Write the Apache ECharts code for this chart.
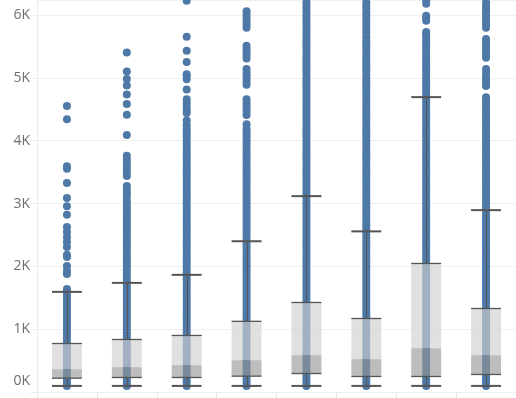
<!DOCTYPE html>
<html><head><meta charset="utf-8">
<script src="https://cdn.jsdelivr.net/npm/echarts@6/dist/echarts.min.js"></script>
<style>html,body{margin:0;padding:0;background:#fff}#c{width:516px;height:398px}</style>
</head><body><div id="c"></div>
<script>
// Categories (x columns; names not visible in the reference)
const categories = ['1', '2', '3', '4', '5', '6', '7', '8'];
// Y tick labels
const yTickValues = [0, 1000, 2000, 3000, 4000, 5000, 6000];
const yTickLabels = ['0K', '1K', '2K', '3K', '4K', '5K', '6K'];
// Box plot statistics per column
const lowerWhisker = [97, 97, 97, 97, 97, 97, 97, 97];
const q1 = [220, 231, 231, 252, 294, 247, 247, 279];
const median = [363, 395, 427, 506, 586, 522, 697, 586];
const q3 = [772, 836, 900, 1125, 1425, 1170, 2046, 1329];
const upperWhisker = [1594, 1737, 1865, 2400, 3118, 2557, 4694, 2895];

// Dot values per column (dense runs are overlapping dots)
const dots1 = [97,150,200,250,300,350,400,450,500,550,600,650,700,750,800,850,900,950,1000,1050,1100,1150,1200,1250,1300,1350,1400,1450,1500,1550,1600,1640,
  1880,1930,2005,2149,2186,2308,2387,2467,2546,2626,2822,2955,3088,3326,3554,3592,4340,4552];
const dots2 = [97,150,200,250,300,350,400,450,500,550,600,650,700,750,800,850,900,950,1000,1050,1100,1150,1200,1250,1300,1350,1400,1450,1500,1550,1600,1650,1700,1750,1800,1850,1900,1950,2000,2050,2100,2150,2200,2250,2300,2350,2400,2450,2500,2550,2600,2650,2700,2750,2800,2850,2900,2950,3000,3050,
  3120,3170,3220,3280,3440,3490,3540,3600,3650,3700,3760,4090,4415,4585,4734,4878,4984,5101,5404];
const dots3 = [97,150,200,250,300,350,400,450,500,550,600,650,700,750,800,850,900,950,1000,1050,1100,1150,1200,1250,1300,1350,1400,1450,1500,1550,1600,1650,1700,1750,1800,1850,1900,1950,2000,2050,2100,2150,2200,2250,2300,2350,2400,2450,2500,2550,2600,2650,2700,2750,2800,2850,2900,2950,3000,3050,3100,3150,3200,3250,3300,3350,3400,3450,3500,3550,3600,3650,3700,3750,3800,3850,3900,3950,4000,4050,4100,4150,4200,4250,4320,
  4440,4490,4540,4600,4660,4814,4980,5030,5060,5255,5431,5654,6230];
const dots4 = [97,150,200,250,300,350,400,450,500,550,600,650,700,750,800,850,900,950,1000,1050,1100,1150,1200,1250,1300,1350,1400,1450,1500,1550,1600,1650,1700,1750,1800,1850,1900,1950,2000,2050,2100,2150,2200,2250,2300,2350,2400,2450,2500,2550,2600,2650,2700,2750,2800,2850,2900,2950,3000,3050,3100,3150,3200,3250,3300,3350,3400,3450,3500,3550,3600,3650,3700,3750,3800,3850,3900,3950,4000,4050,4100,4150,4190,
  4261,4410,4460,4510,4560,4610,4660,4890,4940,4990,5040,5090,5140,5310,5360,5410,5460,5510,5800,5850,5900,5960,6010,6060,6270];
const dots5 = [97,150,200,250,300,350,400,450,500,550,600,650,700,750,800,850,900,950,1000,1050,1100,1150,1200,1250,1300,1350,1400,1450,1500,1550,1600,1650,1700,1750,1800,1850,1900,1950,2000,2050,2100,2150,2200,2250,2300,2350,2400,2450,2500,2550,2600,2650,2700,2750,2800,2850,2900,2950,3000,3050,3100,3150,3200,3250,3300,3350,3400,3450,3500,3550,3600,3650,3700,3750,3800,3850,3900,3950,4000,4050,4100,4150,4200,4250,4300,4350,4400,4450,4500,4550,4600,4650,4700,4750,4800,4850,4900,4950,5000,5050,5100,5150,5200,5250,5300,5350,5400,5450,5500,5550,5600,5650,5700,5750,5800,5850,5900,5950,6000,6050,6100,6150,6200,6250,6300];
const dots6 = [97,150,200,250,300,350,400,450,500,550,600,650,700,750,800,850,900,950,1000,1050,1100,1150,1200,1250,1300,1350,1400,1450,1500,1550,1600,1650,1700,1750,1800,1850,1900,1950,2000,2050,2100,2150,2200,2250,2300,2350,2400,2450,2500,2550,2600,2650,2700,2750,2800,2850,2900,2950,3000,3050,3100,3150,3200,3250,3300,3350,3400,3450,3500,3550,3600,3650,3700,3750,3800,3850,3900,3950,4000,4050,4100,4150,4200,4250,4300,4350,4400,4450,4500,4550,4600,4650,4700,4750,4800,4850,4900,4950,5000,5050,5100,5150,5200,5250,5300,5350,5400,5450,5500,5550,5600,5650,5720,5780,5830,5880,5940,5990,6040,6100,6150,6200,6260,6310];
const dots7 = [97,150,200,250,300,350,400,450,500,550,600,650,700,750,800,850,900,950,1000,1050,1100,1150,1200,1250,1300,1350,1400,1450,1500,1550,1600,1650,1700,1750,1800,1850,1900,1950,2000,2050,2100,2150,2200,2250,2300,2350,2400,2450,2500,2550,2600,2650,2700,2750,2800,2850,2900,2950,3000,3050,3100,3150,3200,3250,3300,3350,3400,3450,3500,3550,3600,3650,3700,3750,3800,3850,3900,3950,4000,4050,4100,4150,4200,4250,4300,4350,4400,4450,4500,4550,4600,4650,4700,4750,4800,4850,4900,4950,5000,5050,5100,5150,5200,5250,5300,5350,5400,5450,5500,5550,5600,5650,5700,5730,
  5910,5950,5990,6180,6230,6280];
const dots8 = [97,150,200,250,300,350,400,450,500,550,600,650,700,750,800,850,900,950,1000,1050,1100,1150,1200,1250,1300,1350,1400,1450,1500,1550,1600,1650,1700,1750,1800,1850,1900,1950,2000,2050,2100,2150,2200,2250,2300,2350,2400,2450,2500,2550,2600,2650,2700,2750,2800,2850,2900,2950,3000,3050,3100,3150,3200,3250,3300,3350,3400,3450,3500,3550,3600,3650,3700,3750,3800,3850,3900,3950,4000,4050,4100,4150,4200,4250,4300,4350,4400,4450,4500,4550,4600,4650,4690,
  4870,4920,4970,5020,5080,5140,5320,5370,5420,5470,5520,5570,5620,5800,5850,5900,5950,6000,6050,6100,6150,6200,6250,6300];

const dotColumns = [dots1, dots2, dots3, dots4, dots5, dots6, dots7, dots8];

const scatterData = [];
dotColumns.forEach((col, i) => col.forEach(v => scatterData.push([i, v])));
const boxData = categories.map((c, i) => [i, lowerWhisker[i], q1[i], median[i], q3[i], upperWhisker[i]]);

const LINE = '#555555';
function renderBox(params, api) {
  const i = api.value(0);
  const band = api.size([1, 0])[0];
  const bw = band * 0.5;
  const cx = api.coord([i, 0])[0];
  const yLo = api.coord([i, api.value(1)])[1];
  const yQ1 = api.coord([i, api.value(2)])[1];
  const yMed = api.coord([i, api.value(3)])[1];
  const yQ3 = api.coord([i, api.value(4)])[1];
  const yHi = api.coord([i, api.value(5)])[1];
  const x0 = cx - bw / 2, x1 = cx + bw / 2;
  const lx = Math.round(cx) + 0.5;
  return {
    type: 'group',
    children: [
      { type: 'line', shape: { x1: lx, y1: yQ3, x2: lx, y2: yHi }, style: { stroke: LINE, lineWidth: 1 } },
      { type: 'line', shape: { x1: lx, y1: yLo, x2: lx, y2: yQ1 }, style: { stroke: LINE, lineWidth: 1 } },
      { type: 'rect', shape: { x: x0, y: yQ3, width: bw, height: yMed - yQ3 }, style: { fill: 'rgba(207,207,207,0.65)' } },
      { type: 'rect', shape: { x: x0, y: yMed, width: bw, height: yQ1 - yMed }, style: { fill: 'rgba(148,148,148,0.62)' } },
      { type: 'line', shape: { x1: x0, y1: yQ3, x2: x1, y2: yQ3 }, style: { stroke: LINE, lineWidth: 1.3 } },
      { type: 'line', shape: { x1: x0, y1: yQ1, x2: x1, y2: yQ1 }, style: { stroke: LINE, lineWidth: 1.3 } },
      { type: 'line', shape: { x1: x0, y1: yHi, x2: x1, y2: yHi }, style: { stroke: LINE, lineWidth: 2 } },
      { type: 'line', shape: { x1: x0, y1: yLo, x2: x1, y2: yLo }, style: { stroke: LINE, lineWidth: 2 } }
    ]
  };
}

const chart = echarts.init(document.getElementById('c'), null, { renderer: 'canvas' });
chart.setOption({
  animation: false,
  backgroundColor: '#ffffff',
  grid: { left: 37, right: -1, top: 0, bottom: 6, containLabel: false },
  xAxis: {
    type: 'category', data: categories, boundaryGap: true,
    axisLine: { show: false },
    axisTick: { show: true, length: 6, lineStyle: { color: '#e6e6e6' } },
    axisLabel: { show: false },
    splitLine: { show: false }
  },
  yAxis: {
    type: 'value', min: 0, max: 6240, interval: 1000,
    axisLine: { show: true, lineStyle: { color: '#ebebeb' } },
    axisTick: { show: true, length: 7, lineStyle: { color: '#efefef' } },
    splitLine: { show: true, lineStyle: { color: '#f0f0f0', width: 1 } },
    axisLabel: {
      showMaxLabel: false,
      margin: 7,
      fontFamily: 'Open Sans', fontSize: 14, color: '#6e6e6e',
      formatter: function (v) {
        const k = yTickValues.indexOf(v);
        if (k < 0) return '';
        return k === 0 ? '{z|' + yTickLabels[0] + '}' : yTickLabels[k];
      },
      rich: { z: { fontFamily: 'Open Sans', fontSize: 14, color: '#6e6e6e', padding: [0, 0, 22, 0] } }
    }
  },
  series: [
    {
      type: 'scatter', data: scatterData, symbol: 'circle', symbolSize: 8,
      itemStyle: { color: '#4e79a7', opacity: 1 }, z: 2, silent: true
    },
    {
      type: 'custom', data: boxData, renderItem: renderBox, z: 3, silent: true,
      encode: { x: 0, y: [1, 2, 3, 4, 5] }
    }
  ]
});
</script>
</body></html>
